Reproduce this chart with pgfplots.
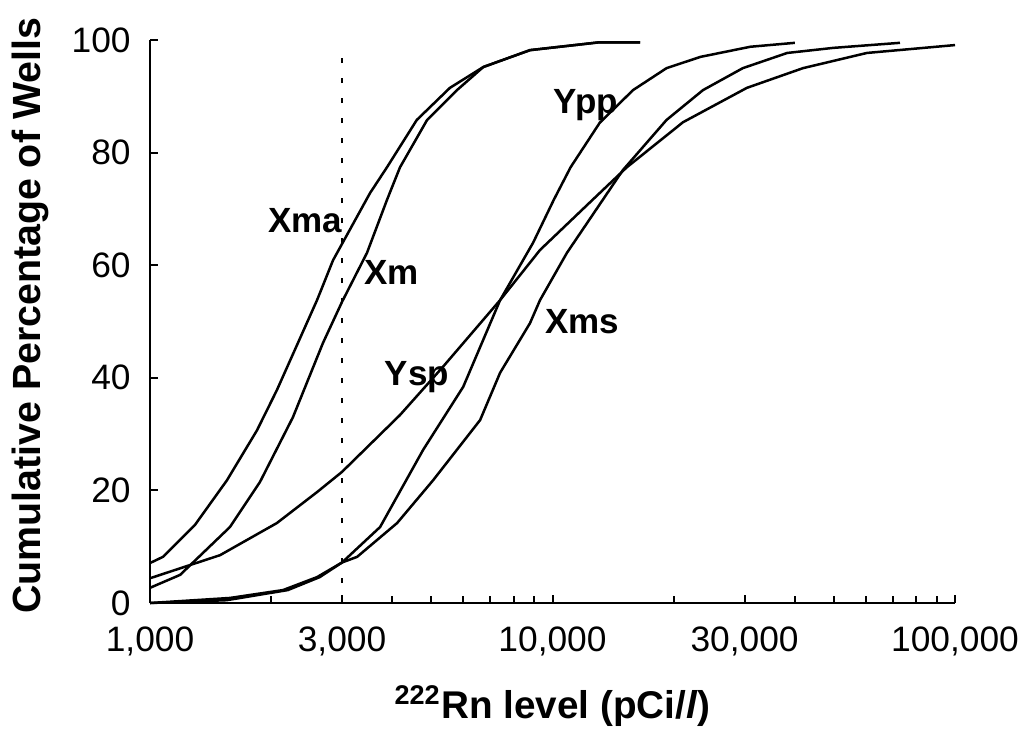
\documentclass[border=0pt]{standalone}
\usepackage{fontspec}
\setmainfont{Liberation Sans}
\usepackage{pgfplots}
\pgfplotsset{compat=1.18}
\begin{document}
\begin{tikzpicture}
\path[use as bounding box] (-45pt,-39.3pt) rectangle (261.9pt,180.9pt);
\begin{axis}[
  at={(0,0)}, anchor=south west,
  scale only axis, width=241.5pt, height=168.9pt,
  xmode=log, xmin=1000, xmax=100000, ymin=0, ymax=100,
  axis lines*=left, axis line style={line width=0.7pt, black},
  tick align=inside, tick style={black, line width=0.6pt},
  major tick length=2.4pt, minor tick length=2.2pt,
  xtick={1000,3000,10000,30000,100000},
  xticklabels={{\mbox{1,000}},{\mbox{3,000}},{\mbox{10,000}},{\mbox{30,000}},{\mbox{100,000}}},
  minor xtick={2000,4000,5000,6000,7000,8000,9000,20000,40000,50000,60000,70000,80000,90000},
  ytick={0,20,40,60,80,100},
  /pgf/number format/assume math mode=true,
  ticklabel style={font=\fontsize{10.6}{12}\selectfont},
  xticklabel style={yshift=-3.6pt},
  yticklabel style={xshift=-2.3pt},
  xlabel={\textsuperscript{222}Rn level (pCi/\textit{l})},
  xlabel style={at={(axis description cs:0.5,-0.183)}, anchor=center, font=\bfseries\fontsize{11.6}{13}\selectfont},
  ylabel={Cumulative Percentage of Wells},
  ylabel style={at={(axis description cs:-0.149,0.51)}, anchor=center, font=\bfseries\fontsize{11.8}{13}\selectfont},
  clip=false,
]
% Xma
\addplot[black, line width=0.75pt] coordinates {(1000,7.1)(1077,8.2)(1294,13.9)(1553,21.8)(1845,30.7)(2066,37.8)(2600,53.8)(2850,60.9)(3520,72.8)(3880,77.4)(4600,85.8)(5560,91.5)(6730,95.2)(8790,98.2)(13100,99.6)(16500,99.6)};
% Xm
\addplot[black, line width=0.75pt] coordinates {(1000,2.7)(1188,5.0)(1580,13.5)(1876,21.5)(2265,33.0)(2690,46.2)(3000,53.5)(3460,62.2)(3880,71.6)(4180,77.4)(4880,85.8)(5790,91.1)(6730,95.2)(8790,98.2)(13100,99.6)(16500,99.6)};
% Ysp
\addplot[black, line width=0.75pt] coordinates {(1000,4.4)(1493,8.5)(2066,14.2)(2600,19.7)(3000,23.3)(4180,33.4)(5350,42.0)(7410,53.8)(9310,62.7)(12400,71.2)(15300,77.4)(21100,85.4)(30400,91.5)(41900,95.0)(60400,97.7)(100000,99.1)};
% Ypp
\addplot[black, line width=0.75pt] coordinates {(1000,0)(1580,0.9)(2140,2.3)(2600,4.6)(3000,7.2)(3730,13.5)(4770,27.2)(6000,38.4)(7410,53.8)(8950,64.0)(10070,71.6)(11090,77.4)(13100,85.3)(15850,91.1)(19200,95.0)(23300,97.0)(31000,98.8)(40000,99.5)};
% Xms
\addplot[black, line width=0.75pt] coordinates {(1000,0)(1550,0.5)(2200,2.3)(2640,4.6)(3000,7.2)(3270,8.2)(4110,14.2)(5050,21.8)(6610,32.5)(7410,40.9)(8790,49.7)(9310,53.8)(10860,62.2)(14960,76.9)(19200,85.8)(23650,91.1)(29700,95.0)(38300,97.7)(49800,98.6)(73000,99.5)};
% dotted line at 3000
\addplot[black, line width=0.8pt, dash pattern=on 1.5pt off 4.5pt] coordinates {(3000,0)(3000,98)};
\node[font=\bfseries\fontsize{10.5}{12}\selectfont] at (axis cs:2427,68.0) {Xma};
\node[font=\bfseries\fontsize{10.5}{12}\selectfont] at (axis cs:3990,58.8) {Xm};
\node[font=\bfseries\fontsize{10.5}{12}\selectfont] at (axis cs:4605,40.1) {Ysp};
\node[font=\bfseries\fontsize{10.5}{12}\selectfont] at (axis cs:12110,88.5) {Ypp};
\node[font=\bfseries\fontsize{10.5}{12}\selectfont] at (axis cs:11840,49.9) {Xms};
\end{axis}
\end{tikzpicture}
\end{document}
